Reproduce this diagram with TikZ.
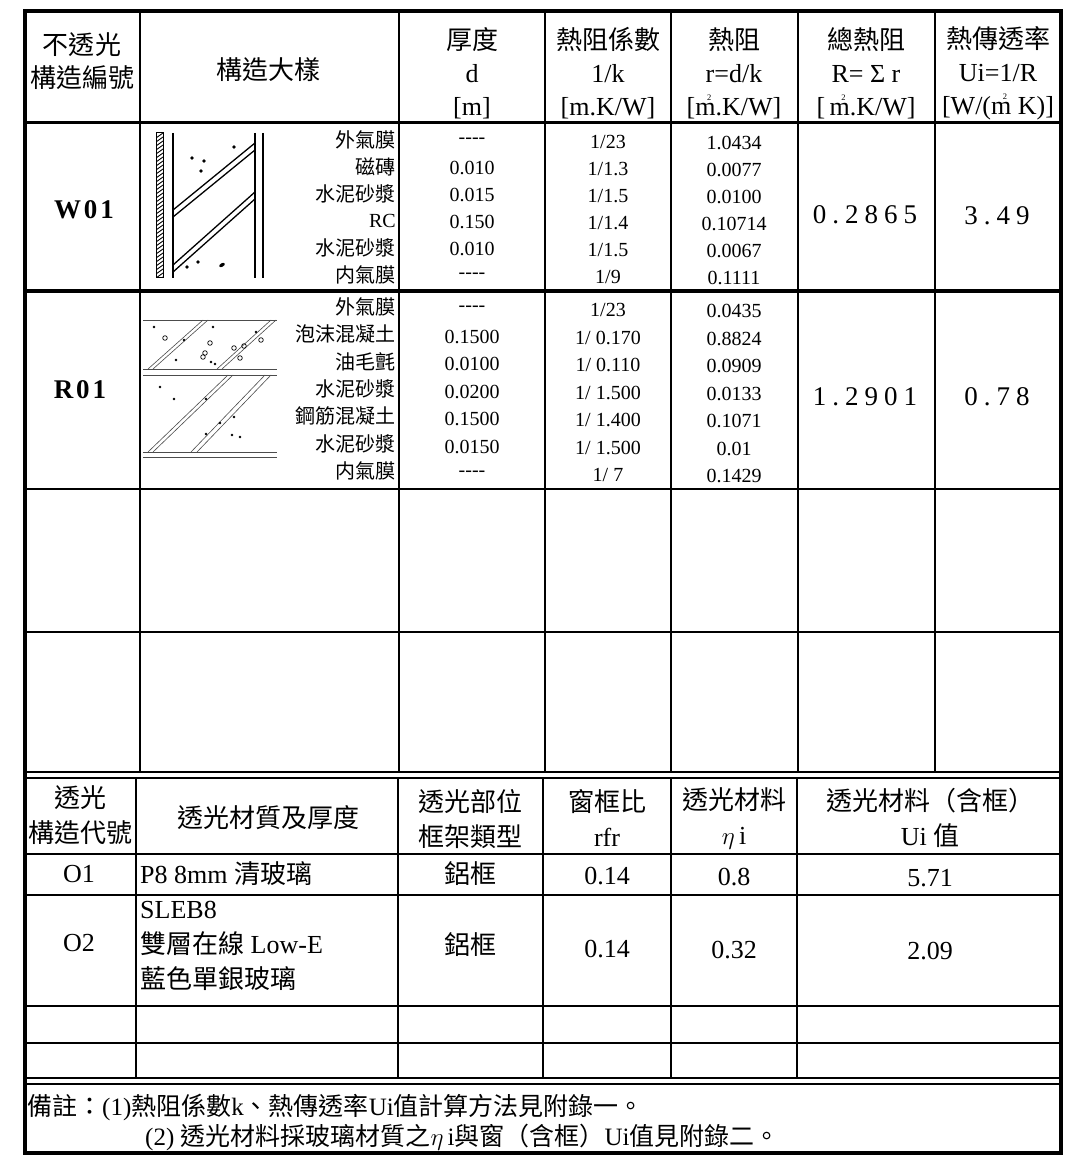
\documentclass[tikz,border=0pt]{standalone}
\usepackage{fontspec}
\setmainfont{Liberation Serif}
\newfontfamily\cjk{Noto Sans CJK TC}
\newcommand{\cj}[1]{{\cjk #1}}
\newcommand{\msq}{m\llap{\raisebox{0.58em}{\fontsize{8.5}{8.5}\selectfont 2}\kern0.16em}}
\newcommand{\dsh}{-{}-{}-{}-}
\tikzset{
  hdr/.style={font=\fontsize{26}{33}\selectfont, align=center, inner sep=0pt},
  hdrb/.style={font=\fontsize{26}{35}\selectfont, align=center, inner sep=0pt},
  lab/.style={font=\fontsize{20}{24}\selectfont, anchor=east, inner sep=0pt},
  num/.style={font=\fontsize{20}{24}\selectfont, inner sep=0pt},
  code/.style={font=\fontsize{27}{30}\selectfont\bfseries, inner sep=0pt},
  big/.style={font=\fontsize{27}{30}\selectfont, inner sep=0pt},
  cell/.style={font=\fontsize{26}{35}\selectfont, inner sep=0pt},
  note/.style={font=\fontsize{25}{30}\selectfont, inner sep=0pt, anchor=west},
  gridline/.style={line width=1.8pt, black},
  heavy/.style={line width=3pt, black},
  sketch/.style={line width=1.3pt, black},
  thin/.style={line width=0.6pt, black!70},
}
\begin{document}
\begin{tikzpicture}[x=1pt,y=-1pt]
\useasboundingbox (0,0) rectangle (1071,1155);
\fill[white] (0,0) rectangle (1071,1155);

% ---------- grid ----------
\foreach \x in {140,399,545,671,798,935}
  \draw[gridline] (\x,11) -- (\x,772);
\draw[heavy] (25,123) -- (1061,123);
\draw[heavy] (25,291) -- (1061,291);
\draw[gridline,line width=2.2pt] (25,489) -- (1061,489);
\draw[gridline] (25,632) -- (1061,632);
\draw[gridline] (25,772) -- (1061,772);
\draw[gridline] (25,778) -- (1061,778);
\foreach \x in {136,398,543,671,797}
  \draw[gridline] (\x,778) -- (\x,1078);
\foreach \y in {854,895,1006,1043}
  \draw[gridline] (25,\y) -- (1061,\y);
\draw[gridline] (25,1078) -- (1061,1078);
\draw[gridline] (25,1084) -- (1061,1084);
\draw[line width=4.5pt] (25,11) rectangle (1061,1153);

% ---------- upper header ----------
\node[hdr] (h1) at (82,61) {\cj{不透光}\\\cj{構造編號}};
\node[hdr] (h2) at (268,70) {\cj{構造大樣}};
\node[hdr] (h3) at (472,73) {\cj{厚度}\\d\\{[m]}};
\node[hdr] (h4) at (608,73) {\cj{熱阻係數}\\1/k\\{[m.K/W]}};
\node[hdr] (h5) at (734,73) {\cj{熱阻}\\r=d/k\\{[\msq.K/W]}};
\node[hdr] (h6) at (866,73) {\cj{總熱阻}\\R= Σ r\\{[\,\msq.K/W]}};
\node[hdr] (h7) at (998,73) {\cj{熱傳透率}\\Ui=1/R\\{[W/(\msq\ K)]}};

% ---------- W01 ----------
\node[code] (w01) at (84,210) {W\kern3pt 0\kern3pt 1};
\foreach \t [count=\i] in {\cj{外氣膜},\cj{磁磚},\cj{水泥砂漿},RC,\cj{水泥砂漿},\cj{内氣膜}}
  \node[lab] (wl\i) at (396,{140+27*(\i-1)}) {\t};
\foreach \t [count=\i] in {\dsh,0.010,0.015,0.150,0.010,\dsh}
  \node[num] (wd\i) at (472,{141+27*(\i-1)}) {\t};
\foreach \t [count=\i] in {1/23,1/1.3,1/1.5,1/1.4,1/1.5,1/9}
  \node[num] (wk\i) at (608,{142+27*(\i-1)}) {\t};
\foreach \t [count=\i] in {1.0434,0.0077,0.0100,0.10714,0.0067,0.1111}
  \node[num] (wr\i) at (734,{143+27*(\i-1)}) {\t};
\node[big] (wR) at (865,215) {0\kern6pt.\kern6pt2\kern6pt8\kern6pt6\kern6pt5};
\node[big] (wU) at (997,216) {3\kern6pt.\kern6pt4\kern6pt9};

% W01 sketch
\begin{scope}
  \clip (156,133) rectangle (163,278);
  \foreach \k in {0,...,37}
    \draw[line width=0.9pt] (156,{133+4*\k+5}) -- (163,{133+4*\k});
\end{scope}
\draw[line width=1pt] (156,133) rectangle (163,278);
\draw[sketch] (173,133) -- (173,278);
\draw[sketch] (255,133) -- (255,278);
\draw[sketch] (263,133) -- (263,278);
\draw[sketch] (173,210) -- (255,143);
\draw[sketch] (173,217) -- (255,150);
\draw[sketch] (173,265) -- (255,192);
\draw[sketch] (173,272) -- (255,199);
\foreach \p in {(192,158),(204,161),(201,171),(234,147),(187,267),(198,262)}
  \fill \p circle (1.9);
\fill[rotate around={-60:(222,265)}] (222,265) ellipse (1.8 and 3);

% ---------- R01 ----------
\node[code] (r01) at (80,390) {R\kern3pt 0\kern3pt 1};
\foreach \t [count=\i] in {\cj{外氣膜},\cj{泡沫混凝土},\cj{油毛氈},\cj{水泥砂漿},\cj{鋼筋混凝土},\cj{水泥砂漿},\cj{内氣膜}}
  \node[lab] (rl\i) at (396,{307+27.3*(\i-1)}) {\t};
\foreach \t [count=\i] in {\dsh,0.1500,0.0100,0.0200,0.1500,0.0150,\dsh}
  \node[num] (rd\i) at (472,{309+27.5*(\i-1)}) {\t};
\foreach \t [count=\i] in {1/23,1/ 0.170,1/ 0.110,1/ 1.500,1/ 1.400,1/ 1.500,1/ 7}
  \node[num] (rk\i) at (608,{310+27.5*(\i-1)}) {\t};
\foreach \t [count=\i] in {0.0435,0.8824,0.0909,0.0133,0.1071,0.01,0.1429}
  \node[num] (rr\i) at (734,{311+27.5*(\i-1)}) {\t};
\node[big] (rR) at (865,397) {1\kern6pt.\kern6pt2\kern6pt9\kern6pt0\kern6pt1};
\node[big] (rU) at (997,397) {0\kern6pt.\kern6pt7\kern6pt8};

% R01 sketch
\draw[thin] (143,320) -- (277,320);
\draw[thin] (143,369) -- (277,369);
\draw[thin] (143,375) -- (277,375);
\draw[thin] (143,452) -- (277,452);
\draw[thin] (143,457) -- (277,457);
\draw[thin] (148,369) -- (203,320);
\draw[thin] (153,369) -- (208,320);
\draw[thin] (217,369) -- (271,320);
\draw[thin] (222,369) -- (276,320);
\draw[thin] (148,452) -- (228,375);
\draw[thin] (153,452) -- (233,375);
\draw[thin] (191,452) -- (265,375);
\draw[thin] (197,452) -- (271,375);
\foreach \p in {(165,338),(210,343),(205,353),(203,357),(234,348),(244,346),(240,358),(261,340)}
  \draw[line width=0.7pt] \p circle (2.3);
\foreach \p in {(154,327),(184,340),(213,327),(176,360),(211,362),(215,364),(256,332),
                (160,387),(174,399),(206,399),(220,423),(234,417),(206,434),(232,435),(240,437)}
  \fill \p circle (1.3);

% ---------- lower header ----------
\node[hdrb] (b1) at (80,815) {\cj{透光}\\\cj{構造代號}};
\node[hdrb] (b2) at (268,818) {\cj{透光材質及厚度}};
\node[hdrb] (b3) at (470,819) {\cj{透光部位}\\\cj{框架類型}};
\node[hdrb] (b4) at (607,818) {\cj{窗框比}\\rfr};
\node[hdrb] (b5) at (734,818) {\cj{透光材料}\\$\eta$\,i};
\node[hdrb] (b6) at (930,818) {\cj{透光材料（含框）}\\Ui \cj{值}};

% O1
\node[cell] (o1a) at (79,874) {O1};
\node[cell,anchor=west] (o1b) at (140,874) {P8 8mm \cj{清玻璃}};
\node[cell] (o1c) at (470,874) {\cj{鋁框}};
\node[cell] (o1d) at (607,876) {0.14};
\node[cell] (o1e) at (734,877) {0.8};
\node[cell] (o1f) at (930,878) {5.71};

% O2
\node[cell] (o2a) at (79,943) {O2};
\node[cell,anchor=west,align=left] (o2b) at (140,946) {SLEB8\\\cj{雙層在線} Low-E\\\cj{藍色單銀玻璃}};
\node[cell] (o2c) at (470,945) {\cj{鋁框}};
\node[cell] (o2d) at (607,949) {0.14};
\node[cell] (o2e) at (734,950) {0.32};
\node[cell] (o2f) at (930,951) {2.09};

% notes
\node[note] (n1) at (27,1107) {\cj{備註：}(1)\cj{熱阻係數}k\cj{、熱傳透率}Ui\cj{值計算方法見附錄一。}};
\node[note] (n2) at (145,1137) {(2) \cj{透光材料採玻璃材質之}$\eta$\,i\cj{與窗（含框）}Ui\cj{值見附錄二。}};
\end{tikzpicture}
\end{document}
